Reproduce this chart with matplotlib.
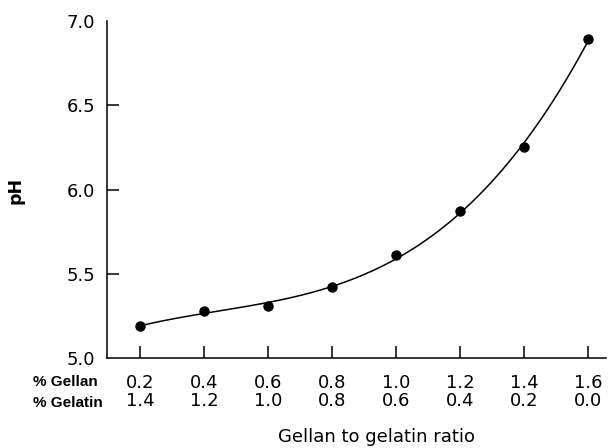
import matplotlib.pyplot as plt
import numpy as np

plt.rcParams['font.family'] = ['DejaVu Sans']

# data
gellan = [0.2, 0.4, 0.6, 0.8, 1.0, 1.2, 1.4, 1.6]
gelatin = [1.4, 1.2, 1.0, 0.8, 0.6, 0.4, 0.2, 0.0]
ph = [5.19, 5.28, 5.31, 5.42, 5.61, 5.87, 6.25, 6.89]
yticks = [5.0, 5.5, 6.0, 6.5, 7.0]

fig = plt.figure(figsize=(6.08, 4.48), dpi=100)
ax = fig.add_axes([107/608, 1-358.3/448, (606-107)/608, (358.3-20.7)/448])

# smooth fitted curve through the points
coef = np.polyfit(gellan, ph, 3)
xs = np.linspace(gellan[0], gellan[-1], 200)
ax.plot(xs, np.polyval(coef, xs), color='black', lw=1.1)
ax.plot(gellan, ph, 'o', color='black', ms=6.5)

ax.set_xlim(0.097, 1.656)
ax.set_ylim(5.0, 7.0)
ax.set_yticks(yticks)
ax.set_yticklabels(['%.1f' % v for v in yticks], fontsize=13)
ax.set_xticks(gellan)
ax.set_xticklabels(['%.1f\n%.1f' % (a, b) for a, b in zip(gellan, gelatin)],
                   fontsize=13, linespacing=1.0)

for s in ['top', 'right']:
    ax.spines[s].set_visible(False)
for s in ['left', 'bottom']:
    ax.spines[s].set_linewidth(1.1)
ax.tick_params(axis='both', direction='in', length=8.5, width=1.1)
ax.tick_params(axis='y', pad=8.5)
ax.tick_params(axis='x', pad=11.5)
# no tick marks at the axis ends
for i in (0, -1):
    t = ax.yaxis.get_major_ticks()[i]
    t.tick1line.set_visible(False)

fig.text(33/608, 1-382/448, '% Gellan', fontsize=11, fontweight='bold', va='center', ha='left',
         family='Liberation Sans')
fig.text(33/608, 1-403/448, '% Gelatin', fontsize=11, fontweight='bold', va='center', ha='left',
         family='Liberation Sans')
fig.text(376/608, 1-437/448, 'Gellan to gelatin ratio', fontsize=13, va='center', ha='center')
fig.text(15/608, 1-190/448, 'pH', fontsize=12.5, fontweight='bold', rotation=90, va='center', ha='center')

fig.savefig('out.png', dpi=100)
